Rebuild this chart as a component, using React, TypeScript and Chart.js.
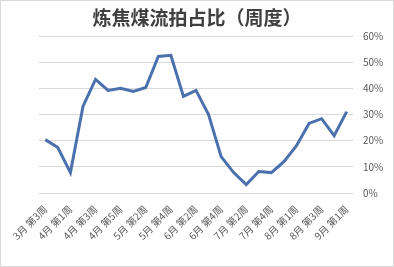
import React, { useEffect, useRef } from "react";
import { Chart, registerables } from "chart.js";

Chart.register(...registerables);

const weeks = [
  "3月 第3周", "3月 第4周", "4月 第1周", "4月 第2周", "4月 第3周", "4月 第4周", "4月 第5周",
  "5月 第1周", "5月 第2周", "5月 第3周", "5月 第4周", "6月 第1周", "6月 第2周", "6月 第3周",
  "6月 第4周", "7月 第1周", "7月 第2周", "7月 第3周", "7月 第4周", "7月 第5周", "8月 第1周",
  "8月 第2周", "8月 第3周", "8月 第4周", "9月 第1周",
];

const shareValues = [
  20.4, 17.4, 7.8, 33.1, 43.4, 39.2, 40.0, 38.8, 40.3, 52.2, 52.6, 36.9, 39.2,
  30.0, 13.9, 7.8, 3.2, 8.2, 7.8, 12.0, 18.1, 26.6, 28.4, 21.9, 31.1,
];

const yTicks = [0, 10, 20, 30, 40, 50, 60];

const titleText = "炼焦煤流拍占比（周度）";

const framePlugin = {
  id: "frame",
  afterDraw(chart: any) {
    const ctx = chart.ctx;
    ctx.save();
    ctx.strokeStyle = "#d9d9d9";
    ctx.lineWidth = 1;
    ctx.strokeRect(0.5, 0.5, chart.width - 1, chart.height - 1);
    ctx.fillStyle = "#3f3f3f";
    ctx.font = "bold 19px 'Noto Sans CJK SC'";
    ctx.textAlign = "center";
    ctx.textBaseline = "middle";
    ctx.fillText(titleText, chart.width / 2, 18);
    ctx.restore();
  },
};

export default function App() {
  const ref = useRef<HTMLCanvasElement | null>(null);

  useEffect(() => {
    if (!ref.current) return;
    const chart = new Chart(ref.current, {
      type: "line",
      data: {
        labels: weeks,
        datasets: [
          {
            data: shareValues,
            borderColor: "#4a70ad",
            borderWidth: 3,
            pointRadius: 0,
            tension: 0,
            fill: false,
          },
        ],
      },
      options: {
        animation: false,
        responsive: false,
        layout: { padding: { left: 39, right: 0, top: 36, bottom: 0 } },
        plugins: {
          legend: { display: false },
          tooltip: { enabled: false },
          title: { display: false },
        },
        scales: {
          x: {
            offset: true,
            grid: { display: false, drawTicks: false },
            border: { display: false },
            ticks: {
              autoSkip: false,
              maxRotation: 45,
              minRotation: 45,
              padding: 10,
              color: "#595959",
              font: { family: "'Noto Sans CJK SC'", size: 10 },
              callback: (_v: any, i: number) => (i % 2 === 0 ? weeks[i] : ""),
            },
            afterFit: (scale: any) => {
              scale.height = 74;
            },
          },
          y: {
            position: "right",
            min: 0,
            max: 60,
            afterBuildTicks: (scale: any) => {
              scale.ticks = yTicks.map((v) => ({ value: v }));
            },
            grid: { color: "#d9d9d9", drawTicks: false },
            border: { display: false },
            ticks: {
              padding: 10,
              color: "#595959",
              font: { family: "'Noto Sans CJK SC'", size: 10 },
              callback: (v: any) => v + "%",
            },
            afterFit: (scale: any) => {
              scale.width = 41;
            },
          },
        },
      },
      plugins: [framePlugin],
    } as any);
    return () => chart.destroy();
  }, []);

  return (
    <div style={{ position: "fixed", left: 0, top: 0, width: 394, height: 267, background: "#fff" }}>
      <canvas ref={ref} width={394} height={267} style={{ width: 394, height: 267 }} />
    </div>
  );
}
